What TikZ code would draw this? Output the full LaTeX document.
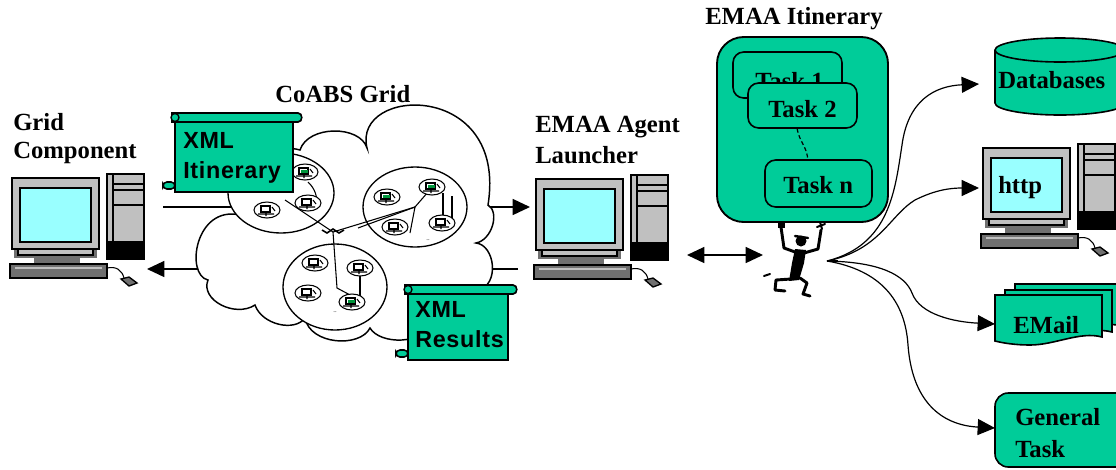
\documentclass[tikz,border=0pt]{standalone}
\usepackage{fontspec}
\setmainfont{Liberation Serif}
\newfontfamily\xmlfont[LetterSpace=3]{Liberation Sans}
\usetikzlibrary{arrows.meta}

\definecolor{emaagreen}{RGB}{0,204,153}
\definecolor{crt}{RGB}{153,255,255}
\definecolor{caselight}{RGB}{192,192,192}
\definecolor{casedark}{RGB}{112,112,112}
\definecolor{chipgreen}{RGB}{0,150,60}

\tikzset{
  % desktop computer: monitor, base, keyboard, tower and mouse
  pics/computer/.style={code={
    \draw[fill=caselight, line width=1pt] (95,-4) rectangle (132,81);
    \draw[line width=0.8pt] (101,-4) -- (101,63);
    \draw[line width=0.8pt] (101,6) -- (132,6) (101,12) -- (132,12) (101,27) -- (132,27);
    \fill (95,63) rectangle (132,81);
    \fill[casedark] (2,71) rectangle (85,80);
    \draw[fill=caselight, line width=0.8pt] (6,71) rectangle (81,77);
    \draw[fill=caselight, line width=1.4pt] (0,0) rectangle (87,71);
    \draw[fill=crt, line width=1.2pt] (8,10) rectangle (79,64);
    \fill[casedark] (22,80) rectangle (68,86);
    \draw[fill=casedark, line width=1.4pt] (-2,86) rectangle (95,100);
    \draw[caselight, line width=0.8pt] (3,90) -- (90,90);
    \draw[line width=0.8pt] (95,90) .. controls (104,88) and (110,92) .. (112,100);
    \draw[fill=casedark, line width=1pt] (109,101) -- (117,99) -- (125,105) -- (117,108) -- cycle;
  }},
  % host inside a grid cluster
  pics/host/.style={code={
    \draw[fill=white, line width=0.8pt] (0,0) ellipse[x radius=13, y radius=8];
    \draw[line width=0.8pt] (-6,-4) rectangle (3,2);
    \draw[line width=0.8pt] (-9,4) -- (7,4) (-1,2) -- (-1,6) (5,-3) -- (8,1);
  }},
  pics/hostg/.style={code={
    \pic {host};
    \fill[chipgreen] (-4,-2) rectangle (3,0.5);
  }},
  % one sheet of the mail stack
  pics/maildoc/.style={code={
    \draw[fill=emaagreen, line width=1.2pt] (0,0) -- (107,0) -- (107,42)
      .. controls (85,36) and (60,50) .. (35,50) .. controls (20,50) and (8,48) .. (0,46) -- cycle;
  }},
}

% scroll: x, y, width, height
\newcommand\xmlscroll[4]{%
  \begin{scope}[shift={(#1,#2)}]
    \draw[fill=emaagreen, line width=1.2pt] (3,9) rectangle (#3-10,#4);
    \draw[fill=emaagreen, line width=1.2pt, rounded corners=3] (-9,#4-10) rectangle (3,#4-3);
    \draw[fill=emaagreen, line width=1.2pt] (0,0) -- (#3-5,0)
      .. controls (#3,0) and (#3,9) .. (#3-5,9) -- (0,9) -- cycle;
    \draw[fill=emaagreen, line width=1pt] (3,4.5) circle[radius=4];
  \end{scope}}

\begin{document}
\begin{tikzpicture}[x=0.75pt, y=-0.75pt,
  lbl/.style={font=\fontsize{18.5}{22}\selectfont\bfseries, inner sep=0pt, anchor=base west},
  xmltxt/.style={font=\xmlfont\fontsize{17.5}{21}\selectfont\bfseries, inner sep=0pt, anchor=base west},
  wire/.style={line width=1.1pt},
  fanline/.style={line width=0.9pt},
  tip/.style={-{Triangle[length=13pt, width=12pt]}},
  greenbox/.style={draw, fill=emaagreen, line width=1.2pt, rounded corners=8pt, inner sep=0pt},
]
\useasboundingbox (0,0) rectangle (1116,469);
\clip (0,0) rectangle (1116,469);
\fill[white] (0,0) rectangle (1116,469);

% ---------- grid component ----------
\node[lbl] (gcA) at (13,130) {Grid};
\node[lbl] (gcB) at (13,158) {Component};
\pic at (12,178) {computer};
\coordinate (gcOut) at (163,207);
\coordinate (gcIn)  at (147,269);

% ---------- connections through the grid ----------
\coordinate (gridW1) at (250,207);
\coordinate (gridW2) at (240,269);
\coordinate (gridE1) at (470,207);
\coordinate (gridE2) at (460,269);
\coordinate (launchIn)  at (530,207);
\coordinate (launchOut) at (518,269);
\draw[wire] (gcOut) -- (gridW1);
\draw[wire, tip] (gridW2) -- (gcIn);
\draw[wire, tip] (gridE1) -- (launchIn);
\draw[wire] (launchOut) -- (gridE2);

% ---------- CoABS grid cloud ----------
\node[lbl] (coabs) at (275,102) {CoABS Grid};
\draw[fill=white, line width=1.1pt]
  (240,215) .. controls (195,205) and (185,275) .. (208,280)
  .. controls (200,300) and (235,318) .. (255,305)
  .. controls (262,325) and (295,332) .. (305,318)
  .. controls (310,345) and (360,348) .. (370,328)
  .. controls (380,345) and (425,345) .. (430,322)
  .. controls (455,335) and (485,315) .. (478,290)
  .. controls (500,285) and (495,245) .. (476,243)
  .. controls (492,240) and (500,212) .. (488,205)
  .. controls (508,80)  and (352,86)  .. (367,148)
  .. controls (360,125) and (308,125) .. (300,150)
  .. controls (265,140) and (225,175) .. cycle;

% clusters
\draw[fill=white, line width=1pt] (281,193) ellipse[x radius=53, y radius=40];
\draw[fill=white, line width=1pt] (415,207) ellipse[x radius=52, y radius=40];
\draw[fill=white, line width=1pt] (335,287) ellipse[x radius=52, y radius=43];

\coordinate (hub) at (333,232);
\draw[line width=0.8pt] (285,200) -- (hub) -- (415,207);
\draw[line width=0.8pt] (hub) -- (337,288) -- (352,296);
\draw[line width=0.8pt] (358,228) -- (415,207) -- (428,192);
\draw[line width=0.8pt] (415,207) -- (410,233);
\draw[line width=0.8pt] (443,193) -- (443,218) (452,196) -- (452,220);
\draw[line width=0.8pt] (360,268) -- (360,300);
\draw[line width=0.8pt] (303,209) .. controls (318,216) and (322,195) .. (308,182);
\draw[line width=1.2pt] (322,230) -- (327,233) -- (333,229) -- (339,233) -- (344,230);

\pic at (305,172) {hostg};
\pic at (308,203) {host};
\pic at (267,210) {host};
\pic at (387,197) {hostg};
\pic at (432,187) {hostg};
\pic at (395,227) {host};
\pic at (442,223) {host};
\pic at (315,263) {host};
\pic at (360,268) {host};
\pic at (308,293) {host};
\pic at (352,302) {hostg};
\node[font=\tiny, inner sep=0pt] (dotsA) at (428,240) {..};
\node[font=\tiny, inner sep=0pt] (dotsB) at (335,312) {..};

% XML scrolls
\xmlscroll{172}{113}{131}{79}
\node[xmltxt] (xiA) at (183,148) {XML};
\node[xmltxt] (xiB) at (183,178) {Itinerary};
\xmlscroll{405}{285}{113}{75}
\node[xmltxt] (xrA) at (415,317) {XML};
\node[xmltxt] (xrB) at (415,347) {Results};

% ---------- EMAA agent launcher ----------
\node[lbl] (elA) at (535,132) {EMAA Agent};
\node[lbl] (elB) at (535,163) {Launcher};
\pic at (536,179) {computer};
\coordinate (launchR) at (687,255);
\coordinate (agentL)  at (763,255);
\draw[wire, {Triangle[length=13pt, width=12pt]}-{Triangle[length=13pt, width=12pt]}] (launchR) -- (agentL);

% ---------- EMAA itinerary ----------
\node[lbl] (itin) at (705,24) {EMAA Itinerary};
\draw[fill=emaagreen, line width=1.4pt, rounded corners=20pt] (717,37) rectangle (888,222);
\node[greenbox, minimum width=81.75pt, minimum height=34.5pt] (task1) at (787.5,75) {};
\node[lbl] (task1t) at (755,89) {Task 1};
\node[greenbox, minimum width=81.75pt, minimum height=33.75pt] (task2) at (802.5,105.5) {};
\node[lbl] (task2t) at (768,117) {Task 2};
\node[greenbox, minimum width=80.25pt, minimum height=35.25pt] (taskn) at (818.5,183.5) {};
\node[lbl] (tasknt) at (783,193) {Task n};
\draw[line width=0.9pt, dashed, dash pattern=on 3pt off 2pt]
  ([xshift=-4pt]task2.south) .. controls +(3,15) and +(-2,-15) .. ([xshift=-8pt]taskn.north);

% ---------- agent ----------
\begin{scope}[line width=2.2pt, line cap=round, line join=round]
  \fill (778,223) rectangle (785,228);
  \draw (781,227) -- (784,248) -- (795,252);
  \draw (821,230) -- (818,249) -- (804,253);
  \draw[line width=1.5pt] (817,227) -- (825,224) (820,222) -- (822,229);
  \fill (801,241) circle[radius=5.5];
  \draw[line width=1.8pt] (795,236) -- (808,238);
  \fill (795,249) -- (806,250) -- (804,263) -- (799,280) -- (789,281) -- (792,263) -- cycle;
  \draw (791,279) -- (776,280) -- (775,290) -- (785,291);
  \draw (800,278) -- (807,283) -- (803,294) -- (810,296);
  \draw[line width=1.5pt] (764,276) -- (770,274);
\end{scope}

% ---------- services ----------
% databases
\draw[fill=emaagreen, line width=1.2pt] (995,50) -- (995,103)
  arc[start angle=180, end angle=0, x radius=65, y radius=12] -- (1125,50)
  arc[start angle=0, end angle=-180, x radius=65, y radius=12] -- cycle;
\draw[line width=1.2pt] (995,50) arc[start angle=180, end angle=0, x radius=65, y radius=12];
\node[lbl] (db) at (998,88) {Databases};
% web server
\pic at (983,148) {computer};
\node[lbl] (web) at (998,193) {http};
% mail
\pic at (1015,284) {maildoc};
\pic at (1005,290) {maildoc};
\pic at (995,295) {maildoc};
\node[lbl] (mail) at (1013,333) {EMail};
% general task
\draw[fill=emaagreen, line width=1.2pt, rounded corners=10pt] (995,393) rectangle (1130,467);
\node[lbl] (genA) at (1015,425) {General};
\node[lbl] (genB) at (1015,457) {Task};

% fan of calls from the agent
\coordinate (fan) at (827,261);
\coordinate (dbIn)   at (979,84);
\coordinate (webIn)  at (979,188);
\coordinate (mailIn) at (995,324);
\coordinate (genIn)  at (995,428);
\draw[line width=2pt] (fan) -- +(11,0);
\draw[fanline, tip] (fan) .. controls (890,245) and (895,190) .. (902,145)
  .. controls (908,100) and (935,86) .. (dbIn);
\draw[fanline, tip] (fan) .. controls (880,250) and (890,215) .. (915,200)
  .. controls (935,190) and (950,188) .. (webIn);
\draw[fanline, tip] (fan) .. controls (880,262) and (905,275) .. (912,293)
  .. controls (920,315) and (955,322) .. (mailIn);
\draw[fanline, tip] (fan) .. controls (880,270) and (905,300) .. (908,345)
  .. controls (912,400) and (940,425) .. (genIn);
\end{tikzpicture}
\end{document}
